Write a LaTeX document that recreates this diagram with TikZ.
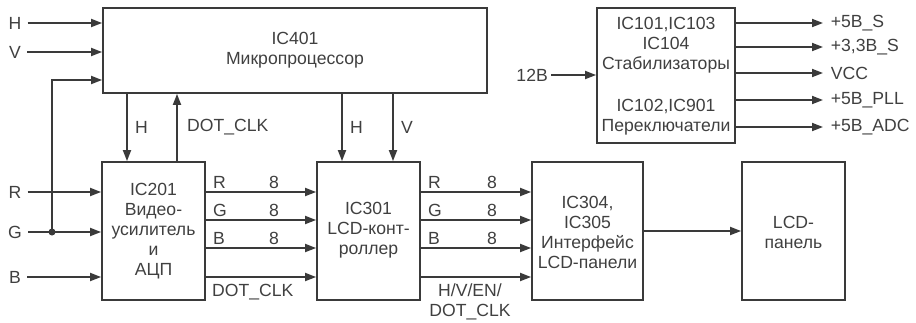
\documentclass[tikz,border=0pt]{standalone}
\usepackage{fontspec}
\setmainfont{Liberation Sans}
\usetikzlibrary{arrows.meta}
\definecolor{ink}{HTML}{3A3A3A}
\definecolor{txt}{HTML}{404040}
\tikzset{
  blk/.style={draw=ink, line width=1.8pt, fill=white, inner sep=0pt, minimum width=#1},
  blk/.default=103pt,
  txtn/.style={text=txt, font=\fontsize{17.6}{20}\selectfont, align=center, inner sep=0pt},
  lbl/.style={text=txt, font=\fontsize{17.6}{20}\selectfont, inner sep=0pt},
  arr/.style={draw=ink, line width=1.8pt, -{Triangle[length=11pt,width=8pt]}},
  ln/.style={draw=ink, line width=1.8pt},
}
\begin{document}
\begin{tikzpicture}[x=1pt,y=-1pt]
\useasboundingbox[fill=white] (0,0) rectangle (916,322);
% blocks
\node[blk=384pt, minimum height=85pt] (ic401) at (295,50.5) {};
\node[blk, minimum height=138pt] (ic201) at (153.5,231) {};
\node[blk, minimum height=138pt] (ic301) at (368.5,231) {};
\node[blk=111pt, minimum height=138pt] (ic304) at (587.5,231) {};
\node[blk, minimum height=138pt] (lcd) at (793.5,231) {};
\node[blk=138pt, minimum height=135pt] (pwr) at (666,75.5) {};
% block texts
\node[txtn] (t401) at (295,50) {IC401\\Микропроцессор};
\node[txtn] (t201) at (153.5,231) {IC201\\Видео-\\усилитель\\и\\АЦП};
\node[txtn] (t301) at (368.5,230) {IC301\\LCD-конт-\\роллер};
\node[txtn] (t304) at (587.5,232) {IC304,\\IC305\\Интерфейс\\LCD-панели};
\node[txtn] (tlcd) at (793.5,232) {LCD-\\панель};
\node[txtn] (tpwr) at (666,76) {IC101,IC103\\IC104\\Стабилизаторы\\[22pt]IC102,IC901\\Переключатели};
% level coordinates
\coordinate (yH) at (0,23);
\coordinate (yV) at (0,52);
\coordinate (yF) at (0,80);
\coordinate (yR) at (0,192);
\coordinate (yG) at (0,220);
\coordinate (yB) at (0,248);
\coordinate (yD) at (0,277);
\coordinate (yGi) at (0,232);
% left inputs
\node[lbl] (lH) at (15,23) {H};
\node[lbl] (lV) at (15,52) {V};
\node[lbl] (lR) at (15,192) {R};
\node[lbl] (lG) at (15,232) {G};
\node[lbl] (lB) at (15,277) {B};
\draw[arr] ([xshift=6pt]lH.east) -- (ic401.west |- yH);
\draw[arr] ([xshift=6pt]lV.east) -- (ic401.west |- yV);
\draw[arr] ([xshift=6pt]lR.east) -- (ic201.west |- yR);
\draw[arr] ([xshift=6pt]lG.east) -- (ic201.west |- yGi);
\draw[arr] ([xshift=6pt]lB.east) -- (ic201.west |- yD);
\coordinate (dot) at (52,232);
\fill[ink] (dot) circle (3.5pt);
\draw[arr] (dot) |- (ic401.west |- yF);
% IC401 <-> IC201
\coordinate (x127) at (127,0);
\coordinate (x177) at (177,0);
\draw[arr] (ic401.south -| x127) -- (ic201.north -| x127);
\draw[arr] (ic201.north -| x177) -- (ic401.south -| x177);
\node[lbl, anchor=west] (lh1) at (135,127) {H};
\node[lbl, anchor=west] (ldc1) at (187,127) {DOT\_CLK};
% IC401 -> IC301
\coordinate (x342) at (342,0);
\coordinate (x393) at (393,0);
\draw[arr] (ic401.south -| x342) -- (ic301.north -| x342);
\draw[arr] (ic401.south -| x393) -- (ic301.north -| x393);
\node[lbl, anchor=west] (lh2) at (350,127) {H};
\node[lbl, anchor=west] (lv2) at (401,127) {V};
% IC201 -> IC301
\draw[arr] (ic201.east |- yR) -- (ic301.west |- yR);
\draw[arr] (ic201.east |- yG) -- (ic301.west |- yG);
\draw[arr] (ic201.east |- yB) -- (ic301.west |- yB);
\draw[arr] (ic201.east |- yD) -- (ic301.west |- yD);
\node[lbl, anchor=west] (a1) at (213,182) {R};
\node[lbl, anchor=west] (a2) at (213,210) {G};
\node[lbl, anchor=west] (a3) at (213,238) {B};
\node[lbl] (a4) at (274,182) {8};
\node[lbl] (a5) at (274,210) {8};
\node[lbl] (a6) at (274,238) {8};
\node[lbl, anchor=west] (a7) at (212,292) {DOT\_CLK};
% IC301 -> IC304
\draw[arr] (ic301.east |- yR) -- (ic304.west |- yR);
\draw[arr] (ic301.east |- yG) -- (ic304.west |- yG);
\draw[arr] (ic301.east |- yB) -- (ic304.west |- yB);
\draw[arr] (ic301.east |- yD) -- (ic304.west |- yD);
\node[lbl, anchor=west] (b1) at (428,182) {R};
\node[lbl, anchor=west] (b2) at (428,210) {G};
\node[lbl, anchor=west] (b3) at (428,238) {B};
\node[lbl] (b4) at (492,182) {8};
\node[lbl] (b5) at (492,210) {8};
\node[lbl] (b6) at (492,238) {8};
\node[txtn] (b7) at (470,302) {H/V/EN/\\DOT\_CLK};
% IC304 -> LCD
\draw[arr] (ic304.east) -- (lcd.west);
% power
\node[lbl, anchor=east] (l12) at (548,75) {12В};
\draw[arr] ([xshift=3pt]l12.east) -- (pwr.west |- 0,75);
\coordinate (xe) at (823,0);
\foreach \yy/\tt/\nn in {23/+5В\_S/o1, 47/+3{,}3В\_S/o2, 73/VCC/o3, 100/+5В\_PLL/o4, 127/+5В\_ADC/o5}{
  \coordinate (c\nn) at (0,\yy);
  \draw[arr] (pwr.east |- c\nn) -- (xe |- c\nn) node[lbl, anchor=west, xshift=7pt] (\nn) {\tt};
}
\end{tikzpicture}
\end{document}
